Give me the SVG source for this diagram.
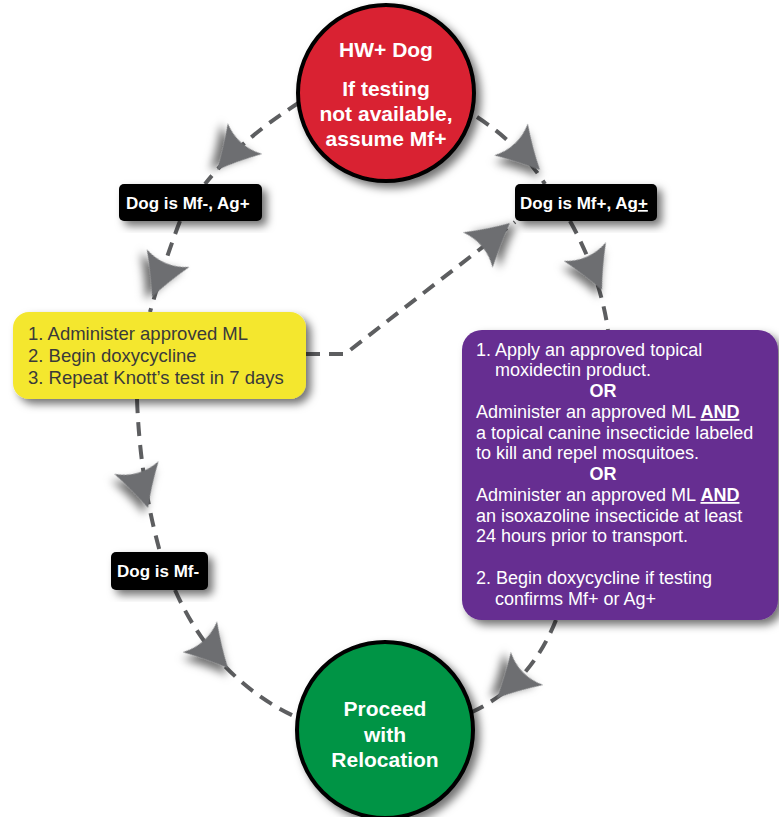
<svg xmlns="http://www.w3.org/2000/svg" xmlns:xlink="http://www.w3.org/1999/xlink" width="779" height="817" viewBox="0 0 779 817">
<defs>
<filter id="sh" x="-30%" y="-30%" width="160%" height="160%">
<feDropShadow dx="5" dy="5" stdDeviation="4" flood-color="#000" flood-opacity="0.55"/>
</filter>
<path id="ah" d="M0,0 Q-20,-9 -42,-23 Q-31,0 -42,23 Q-20,9 0,0 Z"/>
<style>
.ln{fill:none;stroke:#5d5e60;stroke-width:4;stroke-dasharray:14 9}
.arr{fill:#6d6e71;filter:url(#sh)}
.lab rect{fill:#000}
.lab text{fill:#fff;font:bold 17px "Liberation Sans",Arial,sans-serif}
.ct{fill:#fff;font:bold 21px "Liberation Sans",Arial,sans-serif;text-anchor:middle}
.yt{fill:#3a3a3a;font:18.5px "Liberation Sans",Arial,sans-serif}
.pt{fill:#fff;font:18px "Liberation Sans",Arial,sans-serif}
.b{font-weight:bold}
.u{font-weight:bold;text-decoration:underline}
</style>
</defs>
<rect width="779" height="817" fill="#fff"/>
<g id="connectors">
<path class="ln" d="M300,102 Q240,140 205,184"/>
<path class="ln" d="M180,221 Q165,260 150,312"/>
<path class="ln" d="M137,399 Q140,480 160,552"/>
<path class="ln" d="M175,590 Q215,680 298,718"/>
<path class="ln" d="M477,117 Q520,145 545,184"/>
<path class="ln" d="M570,221 Q600,275 608,330"/>
<path class="ln" d="M306,354 L345,354 L515,222"/>
<path class="ln" d="M556,620 Q530,685 472,712"/>
<use xlink:href="#ah" class="arr" transform="translate(217,170) rotate(131.7)"/>
<use xlink:href="#ah" class="arr" transform="translate(152,297) rotate(112.5)"/>
<use xlink:href="#ah" class="arr" transform="translate(148,508) rotate(74)"/>
<use xlink:href="#ah" class="arr" transform="translate(228,668) rotate(48)"/>
<use xlink:href="#ah" class="arr" transform="translate(540,170) rotate(46.5)"/>
<use xlink:href="#ah" class="arr" transform="translate(602,290) rotate(66)"/>
<use xlink:href="#ah" class="arr" transform="translate(510,223) rotate(-40)"/>
<use xlink:href="#ah" class="arr" transform="translate(497,698) rotate(135.5)"/>
</g>
<g id="start">
<circle cx="386" cy="93" r="88" fill="#d92231" stroke="#000" stroke-width="4" filter="url(#sh)"/>
<text class="ct" x="386" y="57" font-size="22">HW+ Dog</text>
<text class="ct" x="386" y="96">If testing</text>
<text class="ct" x="386" y="121">not available,</text>
<text class="ct" x="386" y="146">assume Mf+</text>
</g>
<g id="mfneg-agpos" class="lab">
<rect x="119" y="184" width="143" height="37" rx="5" filter="url(#sh)"/>
<text x="126" y="209">Dog is Mf-, Ag+</text>
</g>
<g id="mfpos-ag" class="lab">
<rect x="515" y="184" width="142" height="37" rx="5" filter="url(#sh)"/>
<text x="520" y="209">Dog is Mf+, Ag<tspan text-decoration="underline">+</tspan></text>
</g>
<g id="yellow">
<rect x="13" y="312" width="293" height="87" rx="16" fill="#f4e72e" filter="url(#sh)"/>
<text class="yt" x="28" y="340">1. Administer approved ML</text>
<text class="yt" x="28" y="362">2. Begin doxycycline</text>
<text class="yt" x="28" y="384">3. Repeat Knott’s test in 7 days</text>
</g>
<g id="purple">
<rect x="462" y="330" width="316" height="290" rx="20" fill="#662d91" filter="url(#sh)"/>
<text class="pt" x="476" y="356">1. Apply an approved topical</text>
<text class="pt" x="495" y="376">moxidectin product.</text>
<text class="pt b" x="603" y="397" text-anchor="middle">OR</text>
<text class="pt" x="476" y="418">Administer an approved ML <tspan class="u">AND</tspan></text>
<text class="pt" x="476" y="439">a topical canine insecticide labeled</text>
<text class="pt" x="476" y="459">to kill and repel mosquitoes.</text>
<text class="pt b" x="603" y="480" text-anchor="middle">OR</text>
<text class="pt" x="476" y="501">Administer an approved ML <tspan class="u">AND</tspan></text>
<text class="pt" x="476" y="522">an isoxazoline insecticide at least</text>
<text class="pt" x="476" y="542">24 hours prior to transport.</text>
<text class="pt" x="476" y="584">2. Begin doxycycline if testing</text>
<text class="pt" x="495" y="605">confirms Mf+ or Ag+</text>
</g>
<g id="mfneg" class="lab">
<rect x="111" y="552" width="97" height="38" rx="5" filter="url(#sh)"/>
<text x="117" y="577">Dog is Mf-</text>
</g>
<g id="proceed">
<circle cx="385" cy="730" r="88" fill="#009444" stroke="#000" stroke-width="4" filter="url(#sh)"/>
<text class="ct" x="385" y="716">Proceed</text>
<text class="ct" x="385" y="742">with</text>
<text class="ct" x="385" y="767">Relocation</text>
</g>
</svg>
